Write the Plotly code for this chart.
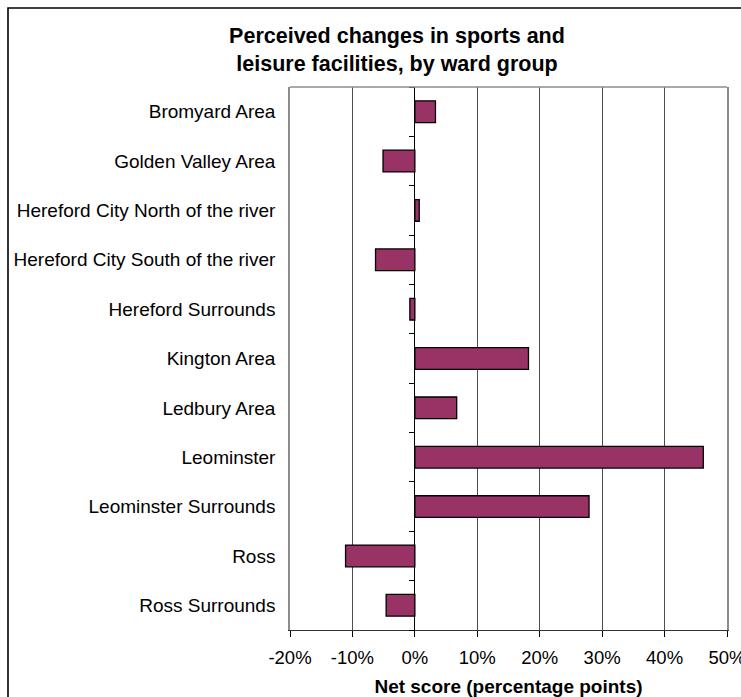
import plotly.graph_objects as go

# Ward groups (top to bottom) and their net score, in percentage points
wards = [
    "Bromyard Area",
    "Golden Valley Area",
    "Hereford City North of the river",
    "Hereford City South of the river",
    "Hereford Surrounds",
    "Kington Area",
    "Ledbury Area",
    "Leominster",
    "Leominster Surrounds",
    "Ross",
    "Ross Surrounds",
]
net_score = [3.3, -5.1, 0.7, -6.3, -0.8, 18.2, 6.7, 46.2, 27.9, -11.1, -4.6]

x_ticks = [-20, -10, 0, 10, 20, 30, 40, 50]
x_tick_text = ["-20%", "-10%", "0%", "10%", "20%", "30%", "40%", "50%"]

FONT = "Liberation Sans, Arial, sans-serif"
W, H = 741, 697
L, R, T, B = 290, 14, 87, 67
x_min, x_max = x_ticks[0], x_ticks[-1]
n = len(wards)

fig = go.Figure()

fig.add_trace(go.Bar(
    x=net_score,
    y=wards,
    orientation="h",
    marker=dict(color="#993366", line=dict(color="#000000", width=1.3)),
    hoverinfo="x+y",
    showlegend=False,
))

# invisible trace that carries the tick-mark axis sitting on the zero line
fig.add_trace(go.Scatter(
    x=[0], y=[0], yaxis="y2", mode="markers",
    marker=dict(opacity=0), hoverinfo="skip", showlegend=False,
))

zero_pos = (0 - x_min) / (x_max - x_min)

fig.update_layout(
    width=W,
    height=H,
    margin=dict(l=L, r=R, t=T, b=B, autoexpand=False),
    paper_bgcolor="#ffffff",
    plot_bgcolor="#ffffff",
    bargap=0.56,
    font=dict(family=FONT, color="#000000"),
    title=dict(
        text="Perceived changes in sports and<br>leisure facilities, by ward group",
        font=dict(family=FONT, size=21.5, color="#000000", weight="bold"),
        xref="container", x=397 / W, xanchor="center",
        yref="container", y=1 - 43 / H, yanchor="top",
    ),
    xaxis=dict(
        range=[x_min, x_max],
        tickvals=x_ticks,
        ticktext=x_tick_text,
        tickfont=dict(size=18.5),
        ticklabeloverflow="allow",
        ticklabelstandoff=5,
        ticks="outside", ticklen=6, tickcolor="#000000", tickwidth=1,
        showgrid=True, gridcolor="#4d4d4d", gridwidth=1,
        zeroline=True, zerolinecolor="#000000", zerolinewidth=1,
        showline=True, linecolor="#333333", linewidth=1.2,
        title=dict(text="Net score (percentage points)",
                   font=dict(size=19, weight="bold"), standoff=14),
        fixedrange=True,
    ),
    yaxis=dict(
        type="category",
        categoryorder="array", categoryarray=wards,
        range=[n - 0.5, -0.5],
        tickfont=dict(size=19),
        ticks="", ticklabelstandoff=9,
        showgrid=False, zeroline=False,
        showline=True, linecolor="#8c8c8c", linewidth=1.5, mirror=True,
        fixedrange=True,
    ),
    yaxis2=dict(
        overlaying="y", anchor="free", position=zero_pos, side="left",
        range=[n - 0.5, -0.5],
        tickvals=[i - 0.5 for i in range(n + 1)],
        showticklabels=False,
        ticks="outside", ticklen=6, tickcolor="#000000", tickwidth=1,
        showgrid=False, zeroline=False, showline=False,
        fixedrange=True,
    ),
    shapes=[
        # top edge of the plot area
        dict(type="line", xref="x domain", yref="y domain",
             x0=0, x1=1, y0=1, y1=1,
             line=dict(color="#8c8c8c", width=1.5)),
        # outer chart frame
        dict(type="rect", xref="paper", yref="paper",
             x0=(8 - L) / (W - L - R), x1=2.0,
             y0=-1.0, y1=1 + (T - 8) / (H - T - B),
             line=dict(color="#000000", width=1.6), layer="below"),
    ],
)

fig.write_html("out.html")
